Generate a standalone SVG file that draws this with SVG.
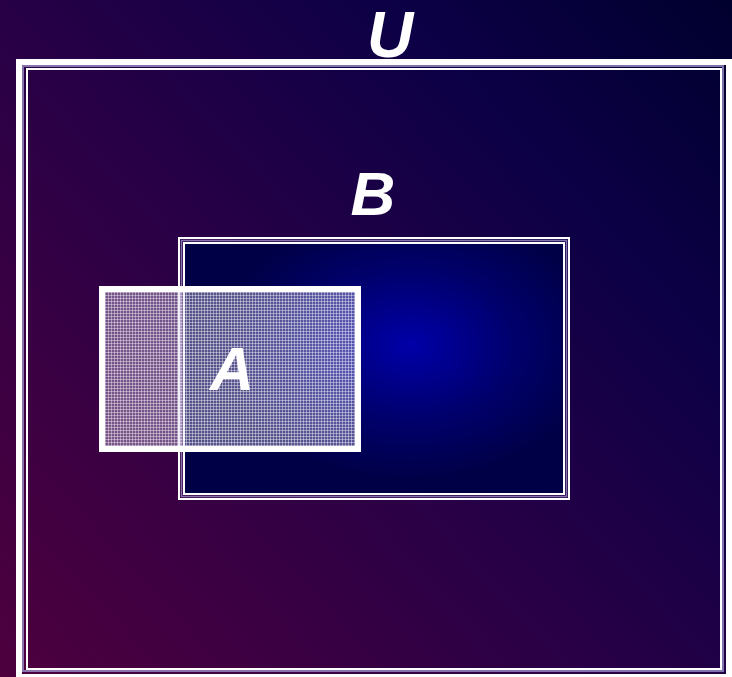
<svg xmlns="http://www.w3.org/2000/svg" width="732" height="677" viewBox="0 0 732 677">
  <defs>
    <linearGradient id="bg" x1="0" y1="677" x2="732" y2="0" gradientUnits="userSpaceOnUse">
      <stop offset="0" stop-color="#4e003e"/>
      <stop offset="0.45" stop-color="#280046"/>
      <stop offset="0.75" stop-color="#0c0046"/>
      <stop offset="1" stop-color="#00002e"/>
    </linearGradient>
    <radialGradient id="bfill" cx="410" cy="345" r="190" gradientUnits="userSpaceOnUse" gradientTransform="translate(410 345) scale(1 0.72) translate(-410 -345)">
      <stop offset="0" stop-color="#0000a8"/>
      <stop offset="0.55" stop-color="#00006c"/>
      <stop offset="1" stop-color="#000046"/>
    </radialGradient>
    <pattern id="grid" x="105" y="292" width="3" height="3" patternUnits="userSpaceOnUse">
      <rect width="3" height="3" fill="#d8d0f0" fill-opacity="0.4"/>
      <rect width="3" height="1" fill="#ffffff" fill-opacity="0.4"/>
      <rect width="1" height="3" fill="#ffffff" fill-opacity="0.4"/>
    </pattern>
    <style>
      .lbl { font-family: "Liberation Sans", Arial, sans-serif; font-weight: bold; font-style: italic; fill: #ffffff; text-anchor: middle; }
      .w { fill: none; stroke: #ffffff; }
      .lav { fill: none; stroke: #9c90c8; stroke-opacity: 0.8; }
    </style>
  </defs>
  <rect x="0" y="0" width="732" height="677" fill="url(#bg)"/>
  <g id="U">
    <rect class="w" x="19" y="62" width="710" height="615" stroke-width="6"/>
    <rect class="lav" x="23" y="66" width="700" height="605" stroke-width="2"/>
    <rect class="w" x="27" y="69" width="694" height="600" stroke-width="2"/>
    <text class="lbl" x="390" y="57" font-size="64">U</text>
  </g>
  <g id="B">
    <rect x="184" y="243" width="380" height="251" fill="url(#bfill)"/>
    <rect class="w" x="179" y="238" width="390" height="261" stroke-width="2"/>
    <rect class="lav" x="181.5" y="240.5" width="385" height="256" stroke-width="1.5"/>
    <rect class="w" x="184" y="243" width="380" height="251" stroke-width="2"/>
    <text class="lbl" x="373" y="215" font-size="62">B</text>
  </g>
  <g id="A">
    <rect x="102" y="289" width="256" height="160" fill="url(#grid)" stroke="#ffffff" stroke-width="6"/>
    <text class="lbl" x="232" y="390" font-size="61">A</text>
  </g>
  <g id="connectors"/>
</svg>
